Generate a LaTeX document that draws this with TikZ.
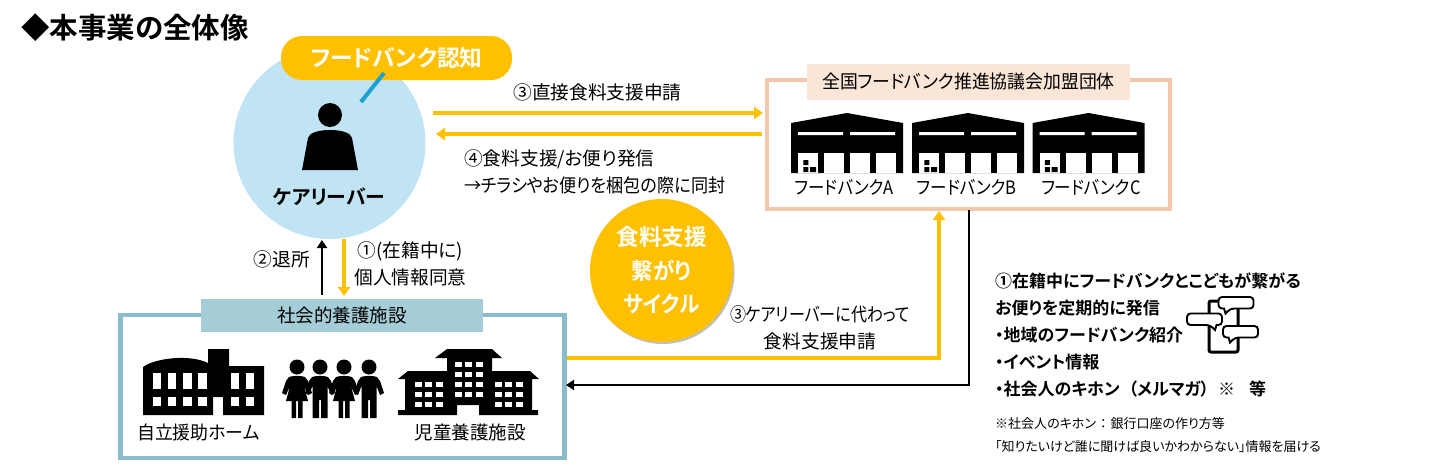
\documentclass[tikz,border=0pt]{standalone}
\usepackage{fontspec}
\usepackage{tikz}
\usetikzlibrary{
    arrows.meta,
    positioning,
    shadows
}
\setmainfont{Noto Sans CJK JP}[RawFeature=+palt]
\newfontfamily\jpbold{Noto Sans CJK JP Bold}[RawFeature=+palt]
\newcommand{\xsq}[2]{\scalebox{#1}[1]{#2}}
\definecolor{Cgold}{RGB}{255, 192, 0}
\definecolor{Csky}{RGB}{193, 228, 245}
\definecolor{Cline}{RGB}{28, 160, 208}
\definecolor{Cpeach}{RGB}{244, 199, 173}
\definecolor{Cpeachfill}{RGB}{251, 229, 214}
\definecolor{Cteal}{RGB}{139, 188, 203}
\definecolor{Ctealfill}{RGB}{165, 205, 216}
\tikzset{
    cframe/.style={rectangle, fill=none, line width=4.5pt, inner sep=0pt},
    ctag/.style={rectangle, text=black, align=center, inner sep=0pt,
        font=\fontsize{18.5}{20}\selectfont},
    ctext/.style={align=center, inner sep=0pt, text=black,
        font=\fontsize{18.7}{27}\selectfont},
    cnote/.style={align=left, inner sep=0pt, text=black,
        font=\fontsize{13}{23}\selectfont},
    cbold/.style={align=left, inner sep=0pt, text=black,
        font=\fontsize{17}{27}\jpbold},
    cgoldarr/.style={-{Triangle[length=9pt, width=12pt]}, line width=3.1pt, Cgold},
    cblackarr/.style={-{Triangle[length=8pt, width=10pt]}, line width=1.9pt, black},
    cbubble/.style={draw=black, fill=white, line width=1.9pt},
    warehouse/.pic={
        \fill[black] (0,10) -- (56,0) -- (112,10) -- (112,60) -- (0,60) -- cycle;
        \fill[white] (7,19) rectangle (52,22) (59,19) rectangle (104,22);
        \foreach \doorx in {7.3,33,59,85}
            \fill[white] (\doorx,40) rectangle +(20,20);
        \fill[black] (12.3,47) rectangle +(5,5) (12.3,54) rectangle +(5,5) (19,54) rectangle +(6,5);
    },
    girlkid/.pic={
        \fill[black] (0,0) circle (7.5);
        \fill[black] (-8,10) .. controls (-4,8.5) and (4,8.5) .. (8,10) -- (11,14) -- (15,26) -- (11,28)
            -- (7,19) -- (11,34) -- (5.5,34) -- (5.5,51) -- (1,51) -- (1,34) -- (-1,34) -- (-1,51) -- (-5.5,51) -- (-5.5,34)
            -- (-11,34) -- (-7,19) -- (-11,28) -- (-15,26) -- (-11,14) -- cycle;
    },
    boykid/.pic={
        \fill[black] (0,0) circle (7.5);
        \fill[black] (-8,10) .. controls (-4,8.5) and (4,8.5) .. (8,10) -- (11,14) -- (15,26) -- (11,28)
            -- (7.5,19) -- (7.5,51) -- (1,51) -- (1,33) -- (-1,33) -- (-1,51) -- (-7.5,51) -- (-7.5,19) -- (-11,28)
            -- (-15,26) -- (-11,14) -- cycle;
    },
    speech/.pic={
        \draw[cbubble, rounded corners=3.5pt] (0,0) -- (35,0) -- (35,11.5) -- (12,11.5) [sharp corners] -- (7,16.5) -- (5.5,11.5)
            [rounded corners=3.5pt] -- (0,11.5) -- cycle;
    },
}

\begin{document}
\begin{tikzpicture}[x=1pt, y=-1pt]
    \useasboundingbox (0,0) rectangle (1437,469);

    % ── タイトル ──────────────────────────────────────
    \node [anchor=west, inner sep=0pt, font=\fontsize{28.5}{30}\jpbold] (title) at (21,28) {◆本事業の全体像};

    % ── ケアリーバー ──────────────────────────────────
    \node [circle, fill=Csky, minimum size=192pt, inner sep=0pt] (carer) at (329.5,143) {};
    \node [rectangle, rounded corners=21pt, fill=Cgold, minimum width=231pt, minimum height=44pt, inner sep=0pt,
           text=white, font=\fontsize{22.7}{28}\jpbold] (aware) at (396.5,58) {フードバンク認知};
    \coordinate (bubbletip) at (361,102);
    \draw [Cline, line width=4pt] (384,73) -- (bubbletip);
    \fill [black] (330,115) circle (12);
    \fill [black] (302,170) -- (308,138) .. controls (309,133) and (318,130) .. (330,130)
        .. controls (342,130) and (351,133) .. (352,138) -- (358,170) -- cycle;
    \node [inner sep=0pt, font=\fontsize{19.8}{23}\jpbold] (carername) at (329,197) {ケアリーバー};

    % ── 全国フードバンク推進協議会加盟団体 ────────────
    \node [cframe, draw=Cpeach, minimum width=403pt, minimum height=129pt] (bankbox) at (968.5,144.5) {};
    \node [ctag, fill=Cpeachfill, minimum width=323pt, minimum height=36pt] (banktag) at (968.5,82) {\xsq{0.965}{全国フードバンク推進協議会加盟団体}};
    \foreach \bankx/\bankname/\labelx in {791/A/844, 912/B/967, 1032.5/C/1091} {
        \pic at (\bankx,113) {warehouse};
        \node [ctag] (bank\bankname) at (\labelx,187) {\xsq{0.89}{フードバンク\bankname}};
    }

    % ── 社会的養護施設 ────────────────────────────────
    \node [cframe, draw=Cteal, minimum width=444pt, minimum height=143pt] (homebox) at (342.5,386.5) {};
    \node [ctag, fill=Ctealfill, minimum width=282pt, minimum height=33pt] (hometag) at (342,315.5) {社会的養護施設};

    % 自立援助ホーム
    \fill [black] (143,367) .. controls (155,358) and (190,354) .. (208,363) -- (208,349) -- (229,349)
        -- (229,366) -- (264,366) -- (264,415) -- (223,415) -- (223,397) -- (213,397) -- (213,415) -- (143,415) -- cycle;
    \foreach \winx/\winw in {153/8, 168/8, 183/9, 198/9, 231/8, 246/8} {
        \fill [white] (\winx,373) rectangle +(\winw,16);
        \fill [white] (\winx,397) rectangle +(\winw,9);
    }
    \node [ctag] (selfhome) at (198.5,432) {\xsq{0.966}{自立援助ホーム}};

    % こどもたち
    \pic at (297,367) {girlkid};
    \pic at (320,367) {boykid};
    \pic at (344,367) {girlkid};
    \pic at (369,367) {boykid};

    % 児童養護施設
    \fill [black] (447,349) -- (492,349) -- (502,358) -- (492,358) -- (492,371) -- (530,371) -- (539,379) -- (532,379)
        -- (532,410) -- (538,410) -- (538,415) -- (479,415) -- (479,405) -- (457,405) -- (457,415) -- (398,415)
        -- (398,410) -- (405,410) -- (405,379) -- (398,379) -- (408,371) -- (447,371) -- (447,358) -- (435,358) -- cycle;
    \foreach \winy in {362,372,382,392}
        \foreach \winx in {455,465,476}
            \fill [white] (\winx,\winy) rectangle +(7,5);
    \foreach \winy in {382,392,402}
        \foreach \winx in {415,425,436,495,505,516}
            \fill [white] (\winx,\winy) rectangle +(7,5);
    \node [ctag] (childhome) at (470,432) {児童養護施設};

    % ── 中央の円 ──────────────────────────────────────
    \node [circle, fill=Cgold, minimum size=143pt, inner sep=0pt, text=white, align=center,
           drop shadow={shadow xshift=1.5pt, shadow yshift=-2pt, opacity=0.25, fill=black},
           font=\fontsize{22.5}{33.5}\jpbold] (cycle) at (661.5,270.5) {食料支援\\\xsq{0.95}{繋がり}\\\xsq{0.92}{サイクル}};

    % ── 矢印 ──────────────────────────────────────────
    \coordinate (applyfrom) at (433,113);
    \coordinate (applyto) at (763,113);
    \coordinate (sendfrom) at (762,134);
    \coordinate (sendto) at (436,134);
    \draw [cgoldarr] (applyfrom) -- (applyto);
    \draw [cgoldarr] (sendfrom) -- (sendto);
    \node [ctext] (applylabel) at (597.5,92) {③直接食料支援申請};
    \node [ctext, align=left, anchor=north west] (sendlabel) at (464,149) {④食料支援/お便り発信\\\xsq{0.915}{→チラシやお便りを梱包の際に同封}};

    \coordinate (leaveup) at (322,240);
    \coordinate (leavedown) at (322,295);
    \coordinate (agreetop) at (344,239);
    \coordinate (agreedown) at (344,296);
    \draw [cblackarr] (leavedown) -- (leaveup);
    \draw [cgoldarr] (agreetop) -- (agreedown);
    \node [ctext] (leavelabel) at (282,259) {②退所};
    \node [ctext] (agreelabel) at (410.5,263.5) {①(在籍中に)\\個人情報同意};

    \coordinate (proxyfrom) at (567,358);
    \coordinate (proxybend) at (939,358);
    \coordinate (proxyto) at (939,211);
    \draw [cgoldarr] (proxyfrom) -- (proxybend) -- (proxyto);
    \node [ctext] (proxylabel) at (820,327.5) {\xsq{0.857}{③ケアリーバーに代わって}\\食料支援申請};

    \coordinate (mailfrom) at (969,210);
    \coordinate (mailbend) at (969,385);
    \coordinate (mailto) at (566,385);
    \draw [cblackarr] (mailfrom) -- (mailbend) -- (mailto);

    % ── 右下の説明 ────────────────────────────────────
    \node [cbold, anchor=north west] (mailtext) at (995,273) {①在籍中にフードバンクとこどもが繋がる\\お便りを定期的に発信\\・地域のフードバンク紹介\\・イベント情報\\・社会人のキホン\hspace{9pt}（メルマガ）\hspace{9pt}※\hspace{14pt}等};
    \node [cnote, anchor=north west] (notetext) at (995,417.5) {※社会人のキホン\hspace{4pt}：\hspace{4pt}銀行口座の作り方等\\「知りたいけど誰に聞けば良いかわからない」情報を届ける};

    % スマホとふきだし
    \draw [black, line width=3pt, rounded corners=2pt] (1209,301) rectangle (1238,352);
    \pic at (1218.5,297) {speech};
    \pic [xscale=-1] at (1222,313.5) {speech};
    \pic at (1223,326) {speech};
\end{tikzpicture}
\end{document}
